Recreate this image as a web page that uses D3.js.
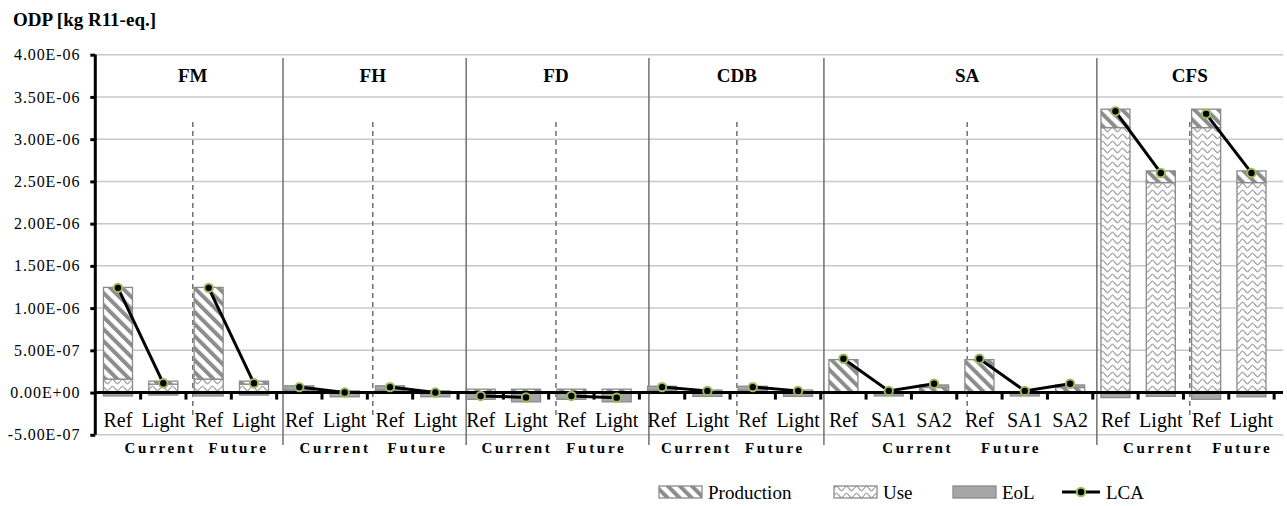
<!DOCTYPE html>
<html><head><meta charset="utf-8">
<script src="https://cdn.jsdelivr.net/npm/d3@7"></script>
<style>
body{margin:0;background:#fff}
svg{display:block}
text{font-family:"Liberation Serif","Times New Roman",serif;fill:#000}
</style>
</head><body>
<svg id="c" width="1287" height="506"></svg>
<script>
// ---------------- DATA ----------------
const groups = ["FM","FH","FD","CDB","SA","CFS"];
const categories = [
  "FM-C-Ref","FM-C-Light","FM-F-Ref","FM-F-Light",
  "FH-C-Ref","FH-C-Light","FH-F-Ref","FH-F-Light",
  "FD-C-Ref","FD-C-Light","FD-F-Ref","FD-F-Light",
  "CDB-C-Ref","CDB-C-Light","CDB-F-Ref","CDB-F-Light",
  "SA-C-Ref","SA-C-SA1","SA-C-SA2","SA-F-Ref","SA-F-SA1","SA-F-SA2",
  "CFS-C-Ref","CFS-C-Light","CFS-F-Ref","CFS-F-Light"
];
const tickLabels = [
  "Ref","Light","Ref","Light",
  "Ref","Light","Ref","Light",
  "Ref","Light","Ref","Light",
  "Ref","Light","Ref","Light",
  "Ref","SA1","SA2","Ref","SA1","SA2",
  "Ref","Light","Ref","Light"
];
const subgroupOf = [
  "FM-C","FM-C","FM-F","FM-F",
  "FH-C","FH-C","FH-F","FH-F",
  "FD-C","FD-C","FD-F","FD-F",
  "CDB-C","CDB-C","CDB-F","CDB-F",
  "SA-C","SA-C","SA-C","SA-F","SA-F","SA-F",
  "CFS-C","CFS-C","CFS-F","CFS-F"
];
const subgroupLabels = ["Current","Future","Current","Future","Current","Future","Current","Future","Current","Future","Current","Future"];
const seriesNames = ["Production","Use","EoL","LCA"];

const production = [
  1.085e-6, 0.035e-6, 1.085e-6, 0.035e-6,
  0.02e-6, 0.01e-6, 0.02e-6, 0.01e-6,
  0.03e-6, 0.03e-6, 0.03e-6, 0.03e-6,
  0.02e-6, 0.02e-6, 0.02e-6, 0.02e-6,
  0.39e-6, 0.01e-6, 0.05e-6, 0.39e-6, 0.01e-6, 0.05e-6,
  0.218e-6, 0.138e-6, 0.218e-6, 0.138e-6
];
const use = [
  0.16e-6, 0.10e-6, 0.16e-6, 0.10e-6,
  0.01e-6, 0.01e-6, 0.01e-6, 0.01e-6,
  0.01e-6, 0.01e-6, 0.01e-6, 0.01e-6,
  0.01e-6, 0.01e-6, 0.01e-6, 0.01e-6,
  0.0, 0.0, 0.01e-6, 0.0, 0.0, 0.01e-6,
  3.137e-6, 2.486e-6, 3.137e-6, 2.486e-6
];
const eol = [
  -0.04e-6, -0.03e-6, -0.04e-6, -0.03e-6,
  0.05e-6, -0.05e-6, 0.05e-6, -0.05e-6,
  -0.08e-6, -0.11e-6, -0.08e-6, -0.11e-6,
  0.045e-6, -0.045e-6, 0.045e-6, -0.045e-6,
  -0.01e-6, -0.04e-6, 0.03e-6, -0.01e-6, -0.04e-6, 0.03e-6,
  -0.06e-6, -0.045e-6, -0.08e-6, -0.05e-6
];
const lca = [
  1.24e-6, 0.11e-6, 1.24e-6, 0.11e-6,
  0.065e-6, 0.0, 0.065e-6, 0.0,
  -0.04e-6, -0.057e-6, -0.04e-6, -0.06e-6,
  0.065e-6, 0.02e-6, 0.065e-6, 0.02e-6,
  0.40e-6, 0.02e-6, 0.105e-6, 0.40e-6, 0.02e-6, 0.105e-6,
  3.33e-6, 2.60e-6, 3.30e-6, 2.60e-6
];
const yTicks = d3.range(-1, 9).map(i => i * 5e-7);

// ---------------- LAYOUT (category-index units) ----------------
const separatorAt = [4.14, 8.18, 12.21, 16.07, 22.09];
const dashedAt = [2.15, 6.12, 10.16, 14.15, 19.23, 24.14];
const subLabelAt = [1.43, 3.16, 5.29, 7.11, 9.3, 11.05, 13.26, 14.99, 18.14, 20.2, 23.45, 25.3];

const plotL = 95.3, step = 45.34, plotR = 1283;
const svg = d3.select("#c");

const x = d3.scaleBand().domain(d3.range(categories.length))
  .range([plotL, plotL + step * categories.length]).paddingInner(0.36).paddingOuter(0.18);
const xi = d3.scaleLinear().domain([0, categories.length]).range(x.range());
const y = d3.scaleLinear().domain([-5e-7, 4e-6]).range([434.8, 54.7]);

// patterns
const defs = svg.append("defs");
const pp = defs.append("pattern").attr("id","pProd").attr("patternUnits","userSpaceOnUse")
  .attr("width",8.5).attr("height",8.5).attr("patternTransform","rotate(-45)");
pp.append("rect").attr("width",8.5).attr("height",8.5).attr("fill","#fff");
pp.append("rect").attr("width",4).attr("height",8.5).attr("fill","#8c8c8c");
const pu = defs.append("pattern").attr("id","pUse").attr("patternUnits","userSpaceOnUse")
  .attr("width",10).attr("height",7);
pu.append("rect").attr("width",10).attr("height",7).attr("fill","#fff");
pu.append("path").attr("d","M0,3.5 C2.5,0.3 2.5,0.3 5,3.5 C7.5,6.7 7.5,6.7 10,3.5")
  .attr("stroke","#a9a9a9").attr("stroke-width",1.4).attr("fill","none");

const fills = {Production:"url(#pProd)", Use:"url(#pUse)", EoL:"#a6a6a6"};

function fmtE(v){
  if (Math.abs(v) < 1e-15) return "0.00E+00";
  const e = Math.floor(Math.log10(Math.abs(v)) + 1e-9);
  const m = v / Math.pow(10, e);
  return m.toFixed(2) + "E" + (e < 0 ? "-" : "+") + String(Math.abs(e)).padStart(2, "0");
}

// gridlines
svg.append("g").selectAll("line").data(yTicks.filter(t => Math.abs(t) > 1e-15)).join("line")
  .attr("x1", plotL).attr("x2", plotR).attr("y1", d => y(d)).attr("y2", d => y(d))
  .attr("stroke","#c8c8c8").attr("stroke-width",1.5);

// separators
svg.append("g").selectAll("line").data(separatorAt).join("line")
  .attr("x1", d => xi(d)).attr("x2", d => xi(d)).attr("y1", 58).attr("y2", 445)
  .attr("stroke","#707070").attr("stroke-width",1.5);
svg.append("g").selectAll("line").data(dashedAt).join("line")
  .attr("x1", d => xi(d)).attr("x2", d => xi(d)).attr("y1", 122).attr("y2", 415)
  .attr("stroke","#707070").attr("stroke-width",1.5).attr("stroke-dasharray","5,4");

// stacked bars
const table = categories.map((c, i) => ({i, Production: production[i], Use: use[i], EoL: eol[i]}));
const stack = d3.stack().keys(["Use","Production","EoL"]).offset(d3.stackOffsetDiverging);
const layers = stack(table);
const barG = svg.append("g");
layers.forEach(layer => {
  barG.append("g").selectAll("rect").data(layer).join("rect")
    .attr("x", d => x(d.data.i)).attr("width", x.bandwidth())
    .attr("y", d => y(Math.max(d[0], d[1])))
    .attr("height", d => Math.abs(y(d[0]) - y(d[1])))
    .attr("fill", fills[layer.key])
    .attr("stroke","#8a8a8a").attr("stroke-width",1.3);
});

// axes
const yAxis = svg.append("g").attr("transform", `translate(${plotL},0)`)
  .call(d3.axisLeft(y).tickValues(yTicks).tickFormat(fmtE).tickSize(5).tickPadding(10));
yAxis.attr("font-family", null);
yAxis.select(".domain").attr("stroke","#000").attr("stroke-width",3)
  .attr("d", `M0,${y(-5e-7)}V${y(4e-6)}`);
yAxis.selectAll(".tick line").attr("stroke","#000").attr("stroke-width",3);
yAxis.selectAll(".tick text").attr("font-size",16).attr("letter-spacing","0.9px").attr("fill","#000");

const xAxis = svg.append("g").attr("transform", `translate(0,${y(0)})`)
  .call(d3.axisBottom(x).tickFormat(i => tickLabels[i]).tickSize(0).tickPadding(20));
xAxis.attr("font-family", null);
xAxis.select(".domain").attr("stroke","#000").attr("stroke-width",3)
  .attr("d", `M${plotL},0H${plotR}`);
xAxis.selectAll(".tick text").attr("font-size",20).attr("fill","#000");
svg.append("g").selectAll("line").data(d3.range(1, categories.length + 1)).join("line")
  .attr("x1", d => xi(d)).attr("x2", d => xi(d)).attr("y1", y(0)).attr("y2", y(0) + 7)
  .attr("stroke","#000").attr("stroke-width",3);

// LCA lines
const lineGen = d3.line().x(i => x(i) + x.bandwidth() / 2).y(i => y(lca[i]));
const subs = d3.groups(d3.range(categories.length), i => subgroupOf[i]);
svg.append("g").selectAll("path").data(subs).join("path")
  .attr("d", d => lineGen(d[1])).attr("fill","none").attr("stroke","#000").attr("stroke-width",3);
svg.append("g").selectAll("circle").data(d3.range(categories.length)).join("circle")
  .attr("cx", i => x(i) + x.bandwidth() / 2).attr("cy", i => y(lca[i])).attr("r",4.2)
  .attr("fill","#000").attr("stroke","#9bbb59").attr("stroke-width",2);

// group titles
svg.append("g").selectAll("text").data(groups).join("text")
  .attr("x", (d, k) => xi(dashedAt[k])).attr("y", 82).attr("text-anchor","middle")
  .attr("font-size",19).attr("font-weight","bold").text(d => d);

// sub group labels
svg.append("g").selectAll("text").data(subgroupLabels).join("text")
  .attr("x", (d, k) => xi(subLabelAt[k])).attr("y", 453).attr("text-anchor","middle")
  .attr("font-size",15).attr("font-weight","bold").attr("letter-spacing","2.7px").text(d => d);

// title
svg.append("text").attr("x",13).attr("y",26).attr("font-size",19).attr("font-weight","bold")
  .text("ODP [kg R11-eq.]");

// legend
const legY = 492;
const legX = [659, 834, 953, 1062];
const lg = svg.append("g");
seriesNames.forEach((name, k) => {
  const g = lg.append("g").attr("transform", `translate(${legX[k]},${legY})`);
  if (name === "LCA") {
    g.append("line").attr("x1",0).attr("x2",38).attr("y1",0).attr("y2",0).attr("stroke","#000").attr("stroke-width",3);
    g.append("circle").attr("cx",19).attr("cy",0).attr("r",4.2).attr("fill","#000").attr("stroke","#9bbb59").attr("stroke-width",2);
    g.append("text").attr("x",44).attr("y",0).attr("dy","0.35em").attr("font-size",19).text(name);
  } else {
    g.append("rect").attr("x",0).attr("y",-6).attr("width",43).attr("height",12)
      .attr("fill", fills[name]).attr("stroke","#8a8a8a").attr("stroke-width",1.3);
    g.append("text").attr("x",49).attr("y",0).attr("dy","0.35em").attr("font-size",19).text(name);
  }
});
</script>
</body></html>
